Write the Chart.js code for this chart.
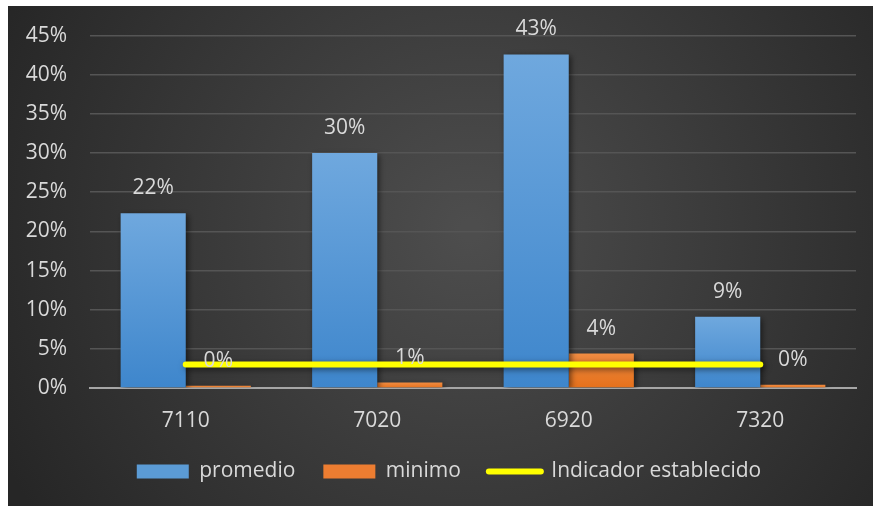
<!DOCTYPE html>
<html>
<head>
<meta charset="utf-8">
<script src="https://cdn.jsdelivr.net/npm/chart.js"></script>
<style>
  body { margin: 0; background: #fff; }
  #chart { display: block; }
</style>
</head>
<body>
<canvas id="chart" width="873" height="506"></canvas>
<script>
const categories = ['7110', '7020', '6920', '7320'];
const promedio = [22.3, 30.0, 42.6, 9.1];
const minimo = [0.3, 0.7, 4.4, 0.4];
const indicador = [3, 3, 3, 3];
const tickLabels = ['0%', '5%', '10%', '15%', '20%', '25%', '30%', '35%', '40%', '45%'];

const FONT = '"Open Sans"';
const FONT_SIZE = 21;
const textColor = '#d9d9d9';

function barGradient(ctx, top, bottom) {
    const chart = ctx.chart;
    if (!chart.chartArea) return top;
    const y = chart.scales.y;
    const y0 = y.getPixelForValue(0);
    const y1 = y.getPixelForValue(ctx.raw || 0);
    if (!isFinite(y1) || y0 - y1 < 1) return top;
    const g = chart.ctx.createLinearGradient(0, y1, 0, y0);
    g.addColorStop(0, top);
    g.addColorStop(1, bottom);
    return g;
}

// dark panel with a soft radial light in the middle
const backgroundPanel = {
    id: 'backgroundPanel',
    beforeDraw(chart) {
        const c = chart.ctx;
        c.save();
        c.fillStyle = '#ffffff';
        c.fillRect(0, 0, chart.width, chart.height);
        const g = c.createRadialGradient(470, 230, 10, 470, 230, 520);
        g.addColorStop(0, '#4d4d4d');
        g.addColorStop(1, '#262626');
        c.fillStyle = g;
        c.fillRect(8, 6, chart.width - 8, chart.height - 6);
        c.restore();
    }
};

// legend sits a bit right of centre in the original
const legendShift = {
    id: 'legendShift',
    afterLayout(chart) {
        if (chart.legend) {
            chart.legend.left += 17;
            chart.legend.right += 17;
        }
    }
};

const shadows = {
    id: 'shadows',
    beforeDatasetsDraw(chart) {
        const c = chart.ctx;
        c.save();
        c.shadowColor = 'rgba(0,0,0,0.55)';
        c.shadowBlur = 6;
        c.shadowOffsetX = 2;
        c.shadowOffsetY = 2;
    },
    afterDatasetsDraw(chart) {
        chart.ctx.restore();
    }
};

// value labels above the bars
const valueLabels = {
    id: 'valueLabels',
    afterDatasetsDraw(chart) {
        const c = chart.ctx;
        c.save();
        c.font = FONT_SIZE + 'px ' + FONT;
        c.fillStyle = textColor;
        c.textAlign = 'center';
        c.textBaseline = 'middle';
        [0, 1].forEach(i => {
            const meta = chart.getDatasetMeta(i);
            const values = chart.data.datasets[i].data;
            meta.data.forEach((bar, j) => {
                c.fillText(Math.round(values[j]) + '%', bar.x, bar.y - 25);
            });
        });
        c.restore();
    }
};

new Chart(document.getElementById('chart'), {
    type: 'bar',
    data: {
        labels: categories,
        datasets: [
            {
                label: 'promedio',
                data: promedio,
                backgroundColor: ctx => barGradient(ctx, '#6fa8de', '#3e86cc'),
                barPercentage: 1,
                categoryPercentage: 0.68
            },
            {
                label: 'minimo',
                data: minimo,
                backgroundColor: ctx => barGradient(ctx, '#f08c42', '#e5701b'),
                barPercentage: 1,
                categoryPercentage: 0.68
            },
            {
                type: 'line',
                label: 'Indicador establecido',
                data: indicador,
                borderColor: '#ffff00',
                backgroundColor: '#ffff00',
                borderWidth: 6,
                borderCapStyle: 'round',
                pointRadius: 0,
                order: -1
            }
        ]
    },
    options: {
        responsive: false,
        animation: false,
        devicePixelRatio: 1,
        layout: {
            padding: { left: 8, right: 17, top: 35, bottom: 14 }
        },
        scales: {
            x: {
                grid: { display: false },
                border: { color: '#a6a6a6', width: 2 },
                ticks: {
                    color: textColor,
                    font: { family: FONT, size: FONT_SIZE },
                    padding: 12
                },
                afterFit(scale) { scale.height = 45; }
            },
            y: {
                min: 0,
                max: 45,
                grid: { color: '#555555', lineWidth: 1.5, drawTicks: false },
                border: { display: false },
                ticks: {
                    stepSize: 5,
                    color: textColor,
                    font: { family: FONT, size: FONT_SIZE },
                    padding: 23,
                    callback: (v, i) => tickLabels[i]
                },
                afterFit(scale) { scale.width = 82; }
            }
        },
        plugins: {
            tooltip: { enabled: false },
            legend: {
                position: 'bottom',
                labels: {
                    color: textColor,
                    font: { family: FONT, size: FONT_SIZE },
                    usePointStyle: true,
                    pointStyleWidth: 52,
                    boxHeight: 14,
                    padding: 28,
                    sort: (a, b) => a.datasetIndex - b.datasetIndex,
                    generateLabels(chart) {
                        const items = Chart.defaults.plugins.legend.labels.generateLabels(chart);
                        items.forEach(item => {
                            if (item.datasetIndex === 0) {
                                item.fillStyle = '#5b9bd5';
                                item.pointStyle = 'rect';
                                item.lineWidth = 0;
                            } else if (item.datasetIndex === 1) {
                                item.fillStyle = '#ed7d31';
                                item.pointStyle = 'rect';
                                item.lineWidth = 0;
                            } else {
                                item.pointStyle = 'line';
                                item.strokeStyle = '#ffff00';
                                item.lineWidth = 6;
                                item.lineCap = 'round';
                            }
                            item.fontColor = textColor;
                        });
                        return items;
                    }
                }
            }
        }
    },
    plugins: [backgroundPanel, legendShift, shadows, valueLabels]
});
</script>
</body>
</html>
